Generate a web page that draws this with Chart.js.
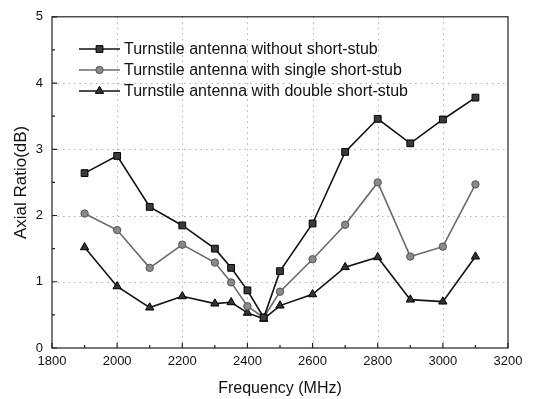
<!DOCTYPE html>
<html>
<head>
<meta charset="utf-8">
<script src="https://cdn.jsdelivr.net/npm/chart.js@4.4.1/dist/chart.umd.min.js"></script>
<style>
  html, body { margin: 0; padding: 0; background: #fff; }
  #wrap { width: 534px; height: 399px; }
</style>
</head>
<body>
<div id="wrap"><canvas id="chart" width="534" height="399"></canvas></div>
<script>
// frequency points (MHz)
const frequencies = [1900, 2000, 2100, 2200, 2300, 2350, 2400, 2450, 2500, 2600, 2700, 2800, 2900, 3000, 3100];

// axial ratio (dB) per antenna variant
const without_stub = [2.64, 2.90, 2.13, 1.85, 1.50, 1.21, 0.87, 0.46, 1.16, 1.88, 2.96, 3.46, 3.09, 3.45, 3.78];
const single_stub  = [2.03, 1.78, 1.21, 1.56, 1.29, 0.99, 0.63, 0.46, 0.85, 1.34, 1.86, 2.50, 1.38, 1.53, 2.47];
const double_stub  = [1.52, 0.93, 0.61, 0.78, 0.67, 0.69, 0.53, 0.44, 0.64, 0.81, 1.22, 1.37, 0.73, 0.70, 1.38];

const series_labels = [
  'Turnstile antenna without short-stub',
  'Turnstile antenna with single short-stub',
  'Turnstile antenna with double short-stub'
];

const x_ticks = [1800, 2000, 2200, 2400, 2600, 2800, 3000, 3200];
const y_ticks = [0, 1, 2, 3, 4, 5];

const FONT = 'Liberation Sans, Arial, sans-serif';

function to_points(values) {
  return frequencies.map((f, i) => ({ x: f, y: values[i] }));
}

// dotted grid at the major ticks, under the data
const dotted_grid = {
  id: 'dotted_grid',
  beforeDatasetsDraw(chart) {
    const ctx = chart.ctx;
    const area = chart.chartArea;
    ctx.save();
    ctx.strokeStyle = '#b4b4b4';
    ctx.lineWidth = 1;
    ctx.setLineDash([1.5, 4]);
    ctx.beginPath();
    for (const f of x_ticks.slice(1, -1)) {
      const px = Math.round(chart.scales.x.getPixelForValue(f)) + 0.5;
      ctx.moveTo(px, area.top);
      ctx.lineTo(px, area.bottom);
    }
    for (const v of y_ticks.slice(1, -1)) {
      const py = Math.round(chart.scales.y.getPixelForValue(v)) + 0.5;
      ctx.moveTo(area.left, py);
      ctx.lineTo(area.right, py);
    }
    ctx.stroke();
    ctx.restore();
  }
};

// frame + inward ticks like the original plot
const frame_plugin = {
  id: 'frame_plugin',
  afterDraw(chart) {
    const ctx = chart.ctx;
    const area = chart.chartArea;
    const xs = chart.scales.x;
    const ys = chart.scales.y;
    ctx.save();
    ctx.strokeStyle = '#222';
    ctx.lineWidth = 1.2;
    ctx.strokeRect(area.left, area.top, area.right - area.left, area.bottom - area.top);
    ctx.beginPath();
    for (let f = 1800; f <= 3200; f += 100) {
      const px = xs.getPixelForValue(f);
      const len = (f % 200 === 0) ? 5 : 3;
      ctx.moveTo(px, area.bottom);
      ctx.lineTo(px, area.bottom - len);
    }
    for (let v = 0; v <= 5; v += 0.5) {
      const py = ys.getPixelForValue(v);
      const len = (v % 1 === 0) ? 5 : 3;
      ctx.moveTo(area.left, py);
      ctx.lineTo(area.left + len, py);
    }
    ctx.stroke();
    ctx.restore();
  }
};

// legend drawn inside the plot area, top left
const inner_legend = {
  id: 'inner_legend',
  afterDraw(chart) {
    const ctx = chart.ctx;
    const x0 = 79, x1 = 120, text_x = 124;
    const rows = [49, 70, 91];
    ctx.save();
    chart.data.datasets.forEach((ds, i) => {
      const y = rows[i];
      ctx.strokeStyle = ds.borderColor;
      ctx.lineWidth = ds.borderWidth;
      ctx.beginPath();
      ctx.moveTo(x0, y);
      ctx.lineTo(x1, y);
      ctx.stroke();
      ctx.fillStyle = ds.pointBackgroundColor;
      ctx.strokeStyle = ds.pointBorderColor;
      ctx.lineWidth = 1;
      Chart.helpers.drawPoint(ctx, {
        pointStyle: ds.pointStyle,
        radius: ds.pointRadius,
        rotation: 0,
        borderWidth: 1
      }, (x0 + x1) / 2, y);
      ctx.fillStyle = '#111';
      ctx.font = '16px ' + FONT;
      ctx.textBaseline = 'middle';
      ctx.fillText(ds.label, text_x, y + 1);
    });
    ctx.restore();
  }
};

new Chart(document.getElementById('chart'), {
  type: 'line',
  data: {
    datasets: [{
      label: series_labels[0],
      data: to_points(without_stub),
      borderColor: '#111',
      borderWidth: 1.6,
      pointStyle: 'rect',
      pointRadius: 4.8,
      pointBackgroundColor: '#3a3a3a',
      pointBorderColor: '#000',
      pointBorderWidth: 1,
      fill: false
    }, {
      label: series_labels[1],
      data: to_points(single_stub),
      borderColor: '#6a6a6a',
      borderWidth: 1.6,
      pointStyle: 'circle',
      pointRadius: 3.7,
      pointBackgroundColor: '#8a8a8a',
      pointBorderColor: '#555',
      pointBorderWidth: 1,
      fill: false
    }, {
      label: series_labels[2],
      data: to_points(double_stub),
      borderColor: '#111',
      borderWidth: 1.6,
      pointStyle: 'triangle',
      pointRadius: 4.8,
      pointBackgroundColor: '#333',
      pointBorderColor: '#000',
      pointBorderWidth: 1,
      fill: false
    }]
  },
  options: {
    responsive: false,
    animation: false,
    layout: { padding: { top: 8, right: 26, left: 0, bottom: 0 } },
    plugins: {
      legend: { display: false },
      tooltip: { enabled: false }
    },
    scales: {
      x: {
        type: 'linear',
        min: 1800,
        max: 3200,
        afterBuildTicks(scale) { scale.ticks = x_ticks.map(v => ({ value: v })); },
        afterFit(scale) { scale.height = 51; },
        ticks: {
          padding: 6,
          color: '#111',
          font: { family: FONT, size: 13 },
          maxRotation: 0,
          callback: (v) => String(v)
        },
        grid: { display: false, drawTicks: false },
        border: { display: false },
        title: {
          display: true,
          text: 'Frequency (MHz)',
          color: '#111',
          font: { family: FONT, size: 16 },
          padding: { top: 0, bottom: 1 }
        }
      },
      y: {
        min: 0,
        max: 5,
        afterBuildTicks(scale) { scale.ticks = y_ticks.map(v => ({ value: v })); },
        afterFit(scale) { scale.width = 52; },
        ticks: {
          padding: 9,
          color: '#111',
          font: { family: FONT, size: 13 },
          callback: (v) => String(v)
        },
        grid: { display: false, drawTicks: false },
        border: { display: false },
        title: {
          display: true,
          text: 'Axial Ratio(dB)',
          color: '#111',
          font: { family: FONT, size: 17 },
          padding: { top: 11, bottom: 0 }
        }
      }
    }
  },
  plugins: [dotted_grid, frame_plugin, inner_legend]
});
</script>
</body>
</html>
